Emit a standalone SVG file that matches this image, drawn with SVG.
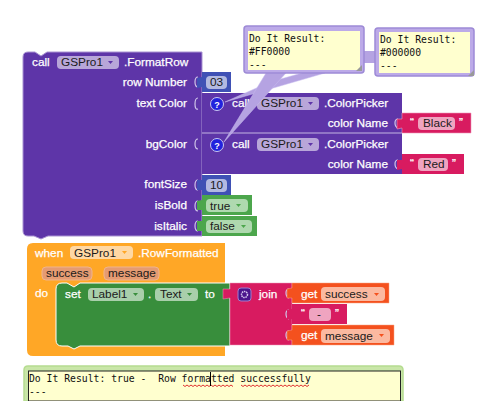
<svg xmlns="http://www.w3.org/2000/svg" width="482" height="401" viewBox="0 0 482 401">
<style>
text{font-family:"Liberation Sans",Arial,sans-serif;font-size:11.8px}
.w{fill:#fff;stroke:#fff;stroke-width:.25}
.k{fill:#1a1a1a}
.r{text-anchor:end}
.m{font-family:"DejaVu Sans Mono","Liberation Mono",monospace;font-size:9.75px;fill:#111;white-space:pre}
.pur{fill:#5e35a8;stroke:#a993d2;stroke-width:1}
.inner{fill:#ffffcf;stroke:none}
.bub{fill:#bcaae8;stroke:#9d8ad6;stroke-width:1.5}
.tail{fill:#b5a3e2;stroke:#c9bdee;stroke-width:.5}
.slot{fill:none;stroke:#cfc4e8;stroke-width:1.2}
.arr{fill:#5e35a8}
.q{fill:#2222dd;stroke:#c8c8f0;stroke-width:1}
</style>
<g id="call-formatrow">
<path class="pur" d="M28 52H35L41 56L47 52H202V236H48L41 239L34 236H28Q23 236 23 231V57Q23 52 28 52Z"/>
<text class="w" x="32" y="66">call</text>
<rect x="57" y="56" width="62" height="13" rx="4" fill="#b8a6d9"/>
<text class="k" x="61" y="66">GSPro1</text><path d="M108 61h5l-2.500 3z" class="arr"/>
<text class="w" x="124" y="66">.FormatRow</text>
<text class="w r" x="187" y="86">row Number</text>
<text class="w r" x="187" y="107">text Color</text>
<text class="w r" x="187" y="148">bgColor</text>
<text class="w r" x="187" y="188">fontSize</text>
<text class="w r" x="187" y="209">isBold</text>
<text class="w r" x="187" y="230">isItalic</text>
<path class="slot" d="M198 77q-3 0-3 5t3 5M198 98q-3 0-3 6t3 5M198 139q-3 0-3 5t3 5M198 180q-3 0-3 5t3 5M198 201q-3 0-3 5t3 5M198 221q-3 0-3 5t3 5"/>
</g>
<g id="picker-black">
<rect x="202" y="93" width="200" height="40" fill="#5e35a8"/>
<text class="w" x="232" y="107">call</text>
<rect x="257" y="97" width="62" height="13" rx="4" fill="#b8a6d9"/>
<text class="k" x="261" y="107">GSPro1</text><path d="M308 102h5l-2.500 3z" class="arr"/>
<text class="w" x="324" y="107">.ColorPicker</text>
<text class="w r" x="388" y="127">color Name</text>
<path class="slot" d="M398 119q-3 0-3 4t3 5"/>
</g>
<g id="picker-red">
<rect x="202" y="133" width="200" height="41" fill="#5e35a8"/>
<path d="M202 133H402" stroke="#c4b6e2" stroke-width="1"/>
<text class="w" x="232" y="148">call</text>
<rect x="257" y="138" width="62" height="13" rx="4" fill="#b8a6d9"/>
<text class="k" x="261" y="148">GSPro1</text><path d="M308 143h5l-2.500 3z" class="arr"/>
<text class="w" x="324" y="148">.ColorPicker</text>
<text class="w r" x="388" y="168">color Name</text>
<path class="slot" d="M398 160q-3 0-3 4t3 5"/>
</g>
<g id="str-black">
<path d="M402 113H471V133H402V128L397 129V119L402 119Z" fill="#d81b60" stroke="#ee99b8" stroke-width=".6"/>
<text class="w" x="410" y="126">“</text><text class="w" x="459" y="126">”</text>
<rect x="418" y="117" width="37" height="13" rx="4" fill="#efa4c0"/>
<text class="k" x="423" y="127">Black</text>
</g>
<g id="str-red">
<path d="M402 154H464V174H402V169L397 170V160L402 160Z" fill="#d81b60"/>
<text class="w" x="410" y="167">“</text><text class="w" x="452" y="167">”</text>
<rect x="418" y="158" width="30" height="13" rx="4" fill="#efa4c0"/>
<text class="k" x="423" y="168">Red</text>
</g>
<g id="num-03">
<path d="M202 72H231V92H202V87L197 88V78L202 77Z" fill="#3f51b5"/>
<rect x="206" y="76" width="21" height="13" rx="4" fill="#b2b9e1"/>
<text class="k" x="210" y="86">03</text>
</g>
<g id="num-10">
<path d="M202 175H231V195H202V190L197 190V180L202 180Z" fill="#3f51b5"/>
<rect x="206" y="179" width="21" height="13" rx="4" fill="#b2b9e1"/>
<text class="k" x="210" y="189">10</text>
</g>
<g id="bool-true">
<path d="M202 195H252V215H202V210L197 210V201L202 200Z" fill="#4ca64c"/>
<rect x="206" y="199" width="42" height="13" rx="4" fill="#afd9af"/>
<text class="k" x="210" y="210">true</text><path d="M236 204h5l-2.500 3z" fill="#4ca64c"/>
</g>
<g id="bool-false">
<path d="M202 216H257V236H202V231L197 231V221L202 221Z" fill="#4ca64c"/>
<rect x="206" y="220" width="46" height="13" rx="4" fill="#afd9af"/>
<text class="k" x="210" y="230">false</text><path d="M241 225h5l-2.500 3z" fill="#4ca64c"/>
</g>
<g id="when-rowformatted">
<path d="M33 243H225V356H33Q27 356 27 350V249Q27 243 33 243Z" fill="#ffa726"/>
<text class="w" x="35" y="257">when</text>
<rect x="70" y="246" width="63" height="13" rx="4" fill="#ffd8a4"/>
<text class="k" x="74" y="257">GSPro1</text><path d="M122 251h5l-2.500 3z" fill="#ffa726"/>
<text class="w" x="138" y="257">.RowFormatted</text>
<rect x="42" y="267" width="50" height="13" rx="4" fill="#e59b72" stroke="#f0b48c"/>
<text class="k" x="46" y="277">success</text>
<rect x="104" y="267" width="55" height="13" rx="4" fill="#e59b72" stroke="#f0b48c"/>
<text class="k" x="108" y="277">message</text>
<text class="w" x="35" y="297">do</text>
</g>
<g id="set-label">
<path d="M62 283H67L74 287L80 283H230V346H80L74 349L68 346H62Q56 346 56 340V289Q56 283 62 283Z" fill="#388e3c" stroke="#fff" stroke-width="1"/>
<text class="w" x="65" y="298">set</text>
<rect x="88" y="288" width="56" height="13" rx="4" fill="#a9cfab"/>
<text class="k" x="92" y="298">Label1</text><path d="M133 293h5l-2.500 3z" fill="#388e3c"/>
<text class="w" x="148" y="298">.</text>
<rect x="155" y="288" width="43" height="13" rx="4" fill="#a9cfab"/>
<text class="k" x="160" y="298">Text</text><path d="M187 293h5l-2.500 3z" fill="#388e3c"/>
<text class="w" x="205" y="298">to</text>
</g>
<g id="join">
<path d="M230 283H292V345H230V298L223 299V289L230 289Z" fill="#d81b60" stroke="#ee99b8" stroke-width=".5"/>
<rect x="238" y="288" width="13" height="13" rx="3" fill="#4a148c" stroke="#9c7fd0"/>
<circle cx="244.500" cy="294.500" r="3" fill="none" stroke="#d5c8ef" stroke-width="1.500" stroke-dasharray="1.500 .7"/>
<text class="w" x="259" y="298">join</text>
<path class="slot" stroke="#f4b6cc" d="M289 289q-3 0-3 4t3 5M289 310q-3 0-3 4t3 5M289 331q-3 0-3 4t3 5"/>
</g>
<g id="get-success">
<path d="M292 283H389V303H292V298L287 298V289L292 288Z" fill="#f4511e" stroke="#f9a080" stroke-width=".5"/>
<text class="w" x="301" y="298">get</text>
<rect x="321" y="287" width="64" height="14" rx="4" fill="#fbb9a0"/>
<text class="k" x="325" y="298">success</text><path d="M374 293h5l-2.500 3z" fill="#f4511e"/>
</g>
<g id="str-dash">
<path d="M292 304H347V324H292V319L287 319V310L292 309Z" fill="#d81b60"/>
<text class="w" x="301" y="317">“</text><text class="w" x="335" y="317">”</text>
<rect x="309" y="308" width="22" height="13" rx="4" fill="#efa4c0"/>
<text class="k" x="317" y="318">-</text>
</g>
<g id="get-message">
<path d="M292 325H394V345H292V340L287 340V331L292 330Z" fill="#f4511e" stroke="#f9a080" stroke-width=".5"/>
<text class="w" x="301" y="339">get</text>
<rect x="321" y="329" width="69" height="14" rx="4" fill="#fbb9a0"/>
<text class="k" x="325" y="340">message</text><path d="M379 334h5l-2.500 3z" fill="#f4511e"/>
</g>
<g id="connectors">
<path class="tail" d="M225 102L325 73H302L270 82Z"/>
<path class="tail" d="M224 142L266 73H286Z"/>
<path d="M360 51H378V63H360Z" fill="#b5a3e2"/>
</g>
<circle class="q" cx="217" cy="104" r="6.500"/>
<text x="217" y="107.500" text-anchor="middle" style="font-size:9px;font-weight:bold" fill="#fff">?</text>
<circle class="q" cx="217" cy="145" r="6.500"/>
<text x="217" y="148.500" text-anchor="middle" style="font-size:9px;font-weight:bold" fill="#fff">?</text>
<g id="bubble-ff0000">
<rect class="bub" x="244" y="26" width="120" height="47" rx="3"/>
<rect class="inner" x="248" y="31" width="112" height="39"/>
<path d="M362 71V65L356 71Z" fill="#999"/>
<text class="m" x="249" y="42">Do It Result:</text>
<text class="m" x="249" y="55">#FF0000</text>
<text class="m" x="249" y="68">---</text>
</g>
<g id="bubble-000000">
<rect class="bub" x="375" y="28" width="99" height="48" rx="3"/>
<rect class="inner" x="379" y="32" width="91" height="41"/>
<path d="M474 76V70L468 76Z" fill="#999"/>
<text class="m" x="380" y="43">Do It Result:</text>
<text class="m" x="380" y="56">#000000</text>
<text class="m" x="380" y="69">---</text>
</g>
<g id="bubble-result">
<path d="M28 366H399Q403 366 403 370V401H24V370Q24 366 28 366Z" fill="#c9e6a8" stroke="#b5dc90" stroke-width="1.500"/>
<rect x="28.500" y="371" width="372" height="30" fill="#ffffcf" stroke="#222" stroke-width="1"/>
<text class="m" x="29" y="382">Do It Result: true -  Row formatted successfully</text>
<text class="m" x="29" y="395">---</text>
<path d="M183 385l2 1.500 2-1.500 2 1.500 2-1.500 2 1.500 2-1.500 2 1.500 2-1.500 2 1.500 2-1.500 2 1.500 2-1.500 2 1.500 2-1.500 2 1.500 2-1.500 2 1.500 2-1.500 2 1.500 2-1.500 2 1.500 2-1.500 2 1.500 2-1.500 2 1.500M241 385l2 1.500 2-1.500 2 1.500 2-1.500 2 1.500 2-1.500 2 1.500 2-1.500 2 1.500 2-1.500 2 1.500 2-1.500 2 1.500 2-1.500 2 1.500 2-1.500 2 1.500 2-1.500 2 1.500 2-1.500 2 1.500 2-1.500 2 1.500 2-1.500 2 1.500 2-1.500 2 1.500 2-1.500 2 1.500 2-1.500 2 1.500 2-1.500 2 1.500 2-1.500" fill="none" stroke="#e03030" stroke-width="1"/>
<path d="M210.500 372V386" stroke="#000" stroke-width="1"/>
</g>
</svg>
